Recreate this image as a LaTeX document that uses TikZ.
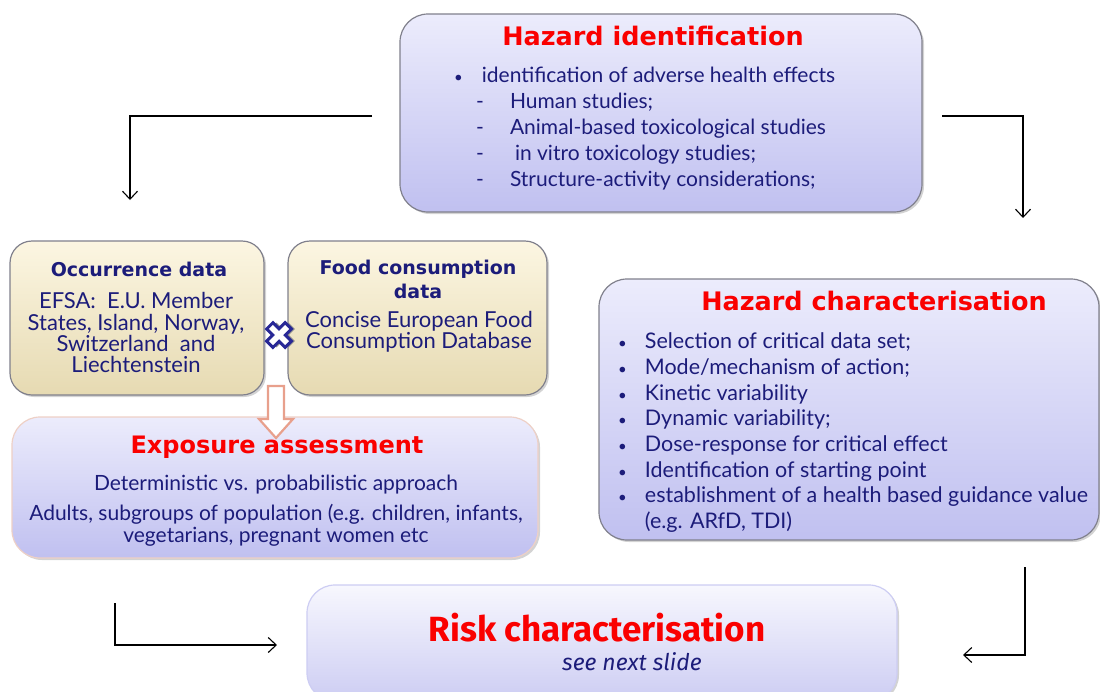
\documentclass[tikz,border=0pt]{standalone}
\usepackage{fontspec}
\setmainfont{Lato}
\newfontfamily\headfont{DejaVu Sans}
\newfontfamily\riskfont{Fira Sans}
\usetikzlibrary{arrows.meta,shadows}

\definecolor{navytext}{RGB}{28,28,122}
\definecolor{titlered}{RGB}{250,0,0}
\definecolor{lavtop}{RGB}{236,236,252}
\definecolor{lavbot}{RGB}{192,192,240}
\definecolor{tantop}{RGB}{252,246,226}
\definecolor{tanbot}{RGB}{230,218,178}
\definecolor{boxline}{RGB}{128,128,140}
\definecolor{peachline}{RGB}{238,208,198}
\definecolor{crossblue}{RGB}{40,40,150}
\definecolor{arrowpeach}{RGB}{232,160,140}

\newcommand{\dotitem}{{\fontsize{15}{15}\selectfont\textbullet}}

\tikzset{
  panel/.style={rectangle, rounded corners=28pt, inner sep=0pt, draw=boxline,
    line width=1.2pt, top color=lavtop, bottom color=lavbot,
    drop shadow={opacity=0.35, shadow xshift=2pt, shadow yshift=-2pt}},
  datapanel/.style={panel, rounded corners=22pt, top color=tantop, bottom color=tanbot},
  riskpanel/.style={panel, draw=lavbot!80, top color=white!60!lavtop, bottom color=lavbot!80!white},
  headtitle/.style={text=titlered, font=\headfont\bfseries\fontsize{24}{28}\selectfont, inner sep=0pt},
  datatitle/.style={text=navytext, font=\headfont\bfseries\fontsize{19}{24}\selectfont, inner sep=0pt, align=center},
  bodytext/.style={text=navytext, font=\fontsize{21}{26}\selectfont, inner sep=0pt},
  flow/.style={line width=1.1pt, -{Straight Barb[length=8pt,width=15pt]}}
}

\begin{document}
\begin{tikzpicture}[x=1pt,y=-1pt]
  \useasboundingbox (0,0) rectangle (1100,691);

  % boxes
  \node[panel, minimum width=522pt, minimum height=198pt] (hid) at (661,113) {};
  \node[panel, minimum width=500pt, minimum height=261pt] (hch) at (849,409.5) {};
  \node[datapanel, minimum width=254pt, minimum height=154pt] (occ) at (137,318) {};
  \node[datapanel, minimum width=259pt, minimum height=154pt] (food) at (417.5,318) {};
  \node[panel, draw=peachline, minimum width=526pt, minimum height=141pt] (expo) at (275,487.5) {};
  \node[riskpanel, minimum width=590pt, minimum height=116pt] (risk) at (602,643) {};

  % titles
  \node[headtitle, font=\headfont\bfseries\fontsize{25.5}{28}\selectfont] (hidtitle) at (653,36) {Hazard identification};
  \node[headtitle, font=\headfont\bfseries\fontsize{25.5}{28}\selectfont] (hchtitle) at (874,301) {Hazard characterisation};
  \node[headtitle] (expotitle) at (277,447) {Exposure assessment};
  \node[datatitle] (occtitle) at (139,269) {Occurrence data};
  \node[datatitle] (foodtitle) at (418,279) {Food consumption\\data};
  \node[text=titlered, font=\riskfont\bfseries\fontsize{35}{40}\selectfont, inner sep=0pt]
    (risktitle) at (597,628) {Risk characterisation};
  \node[text=navytext, font=\riskfont\itshape\fontsize{23}{26}\selectfont, inner sep=0pt]
    (risknote) at (632,662) {see next slide};

  % texts (multi-line nodes sit on the baseline of their last line)
  \node[bodytext, align=left, anchor=base west] (hidlist) at (454,186.5)
    {\dotitem\hspace{19pt}identification of adverse health effects\\
     \hspace{22pt}-\hspace{26pt}Human studies;\\
     \hspace{22pt}-\hspace{26pt}Animal-based toxicological studies\\
     \hspace{22pt}-\hspace{31pt}in vitro toxicology studies;\\
     \hspace{22pt}-\hspace{26pt}Structure-activity considerations;};
  \node[bodytext, align=left, anchor=base west, font=\fontsize{21.5}{25.7}\selectfont] (hchlist) at (618,528.5)
    {\dotitem\hspace{18pt}Selection of critical data set;\\
     \dotitem\hspace{18pt}Mode/mechanism of action;\\
     \dotitem\hspace{18pt}Kinetic variability\\
     \dotitem\hspace{18pt}Dynamic variability;\\
     \dotitem\hspace{18pt}Dose-response for critical effect\\
     \dotitem\hspace{18pt}Identification of starting point\\
     \dotitem\hspace{18pt}establishment of a health based guidance value\\
     \phantom{\dotitem}\hspace{18pt}(e.g. ARfD, TDI)};
  \node[bodytext, align=center, anchor=base, font=\fontsize{22}{21.2}\selectfont] (occtext) at (136,372.5)
    {EFSA:\ \ E.U. Member\\ States, Island, Norway,\\ Switzerland\ \ and\\ Liechtenstein};
  \node[bodytext, align=center, anchor=base, font=\fontsize{22}{21.2}\selectfont] (foodtext) at (419,348.5)
    {Concise European Food\\ Consumption Database};
  \node[bodytext, anchor=base] (expotext) at (276,490)
    {Deterministic vs. probabilistic approach};
  \node[bodytext, align=center, anchor=base, font=\fontsize{21}{22}\selectfont] (expogroups) at (276,542.5)
    {Adults, subgroups of population (e.g. children, infants,\\ vegetarians, pregnant women etc};

  % multiplication sign between the data boxes
  \begin{scope}[shift={(279,335)}, rotate=45]
    \fill[black!45] (-4.5,-13)++(2.5,2.5) -- ++(9,0) -- ++(0,8.5) -- ++(8.5,0) -- ++(0,9) -- ++(-8.5,0)
      -- ++(0,8.5) -- ++(-9,0) -- ++(0,-8.5) -- ++(-8.5,0) -- ++(0,-9) -- ++(8.5,0) -- cycle;
    \draw[crossblue, fill=white, line width=3pt, line join=miter]
      (-4.5,-13) -- (4.5,-13) -- (4.5,-4.5) -- (13,-4.5) -- (13,4.5) -- (4.5,4.5) -- (4.5,13)
      -- (-4.5,13) -- (-4.5,4.5) -- (-13,4.5) -- (-13,-4.5) -- (-4.5,-4.5) -- cycle;
  \end{scope}

  % hollow arrow from occurrence data down to exposure
  \draw[arrowpeach, fill=white, line width=2.2pt]
    (268,386) -- (284,386) -- (284,419) -- (293,419) -- (276,438) -- (259,419) -- (268,419) -- cycle;

  % connectors
  \coordinate (hidL) at (372,116);
  \coordinate (occIn) at (130,200);
  \coordinate (hidR) at (942,116);
  \coordinate (hchIn) at (1023,218);
  \coordinate (expoOut) at (115,603);
  \coordinate (riskInL) at (277,645);
  \coordinate (hchOut) at (1025,567);
  \coordinate (riskInR) at (963,655);
  \draw[flow] (hidL) -| (occIn);
  \draw[flow] (hidR) -| (hchIn);
  \draw[flow] (expoOut) |- (riskInL);
  \draw[flow] (hchOut) |- (riskInR);
\end{tikzpicture}
\end{document}
